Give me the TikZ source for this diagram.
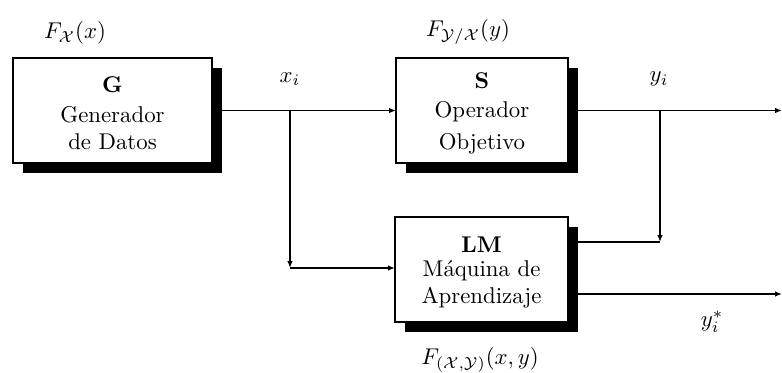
\documentclass[tikz,border=0pt]{standalone}
\usetikzlibrary{shadows,arrows.meta,calc}
\begin{document}
\begin{tikzpicture}[x=0.4386pt,y=-0.4386pt,
  blk/.style={draw,line width=0.85pt,fill=white,inner sep=0pt,outer sep=0pt,
    minimum height=46pt,align=center,
    drop shadow={shadow xshift=4.4pt,shadow yshift=-4.4pt,fill=black,opacity=1}},
  wire/.style={line width=0.85pt},
  arr/.style={wire,-{Latex[length=3pt,width=2.4pt]}},
  lbl/.style={inner sep=0pt}]
\useasboundingbox (0,0) rectangle (782,372);

% blocks
\node[blk,minimum width=87.3pt] (G) at (112.5,110.5)
  {\rule{0pt}{9.4pt}\textbf{G}\\[1pt] Generador\\ de Datos};
\node[blk,minimum width=75.4pt] (S) at (482,110.5)
  {\rule{0pt}{9.4pt}\textbf{S}\\[1pt] Operador\\[2pt] Objetivo};
\node[blk,minimum width=75.9pt] (LM) at (481.5,269.5)
  {\rule{0pt}{9.4pt}\textbf{LM}\\[-1.5pt] M\'aquina de\\ Aprendizaje};

% distribution labels
\node[lbl] (fx) at (75,33) {$F_{\mathcal{X}}(x)$};
\node[lbl] (fyx) at (468,32) {$F_{\mathcal{Y}/\mathcal{X}}(y)$};
\node[lbl] (fxy) at (480,360) {$F_{(\mathcal{X},\mathcal{Y})}(x,y)$};

% signal labels
\node[lbl] (xi) at (290,79) {$x_i$};
\node[lbl] (yi) at (659,79) {$y_i$};
\node[lbl] (ys) at (712,322) {$y_i^*$};

% connection points
\coordinate (gout) at ($(G.east)+(10,0)$);
\coordinate (sout) at ($(S.east)+(10,0)$);
\coordinate (lmup) at (578,242);
\coordinate (lmlo) at (578,294);
\coordinate (xb) at (290,110.5);
\coordinate (xc) at (290,268);
\coordinate (yb) at (660,110.5);
\coordinate (yc) at (660,242);
\coordinate (yend) at (782,110.5);
\coordinate (ysend) at (782,294);

% wires
\draw[arr] (gout) -- (S.west);
\draw[arr] (xb) -- (xc);
\draw[arr] (xc) -- (LM.west |- xc);
\draw[arr] (sout) -- (yend);
\draw[arr] (yb) -- (yc);
\draw[wire] (lmup) -- (yc);
\draw[arr] (lmlo) -- (ysend);
\end{tikzpicture}
\end{document}
